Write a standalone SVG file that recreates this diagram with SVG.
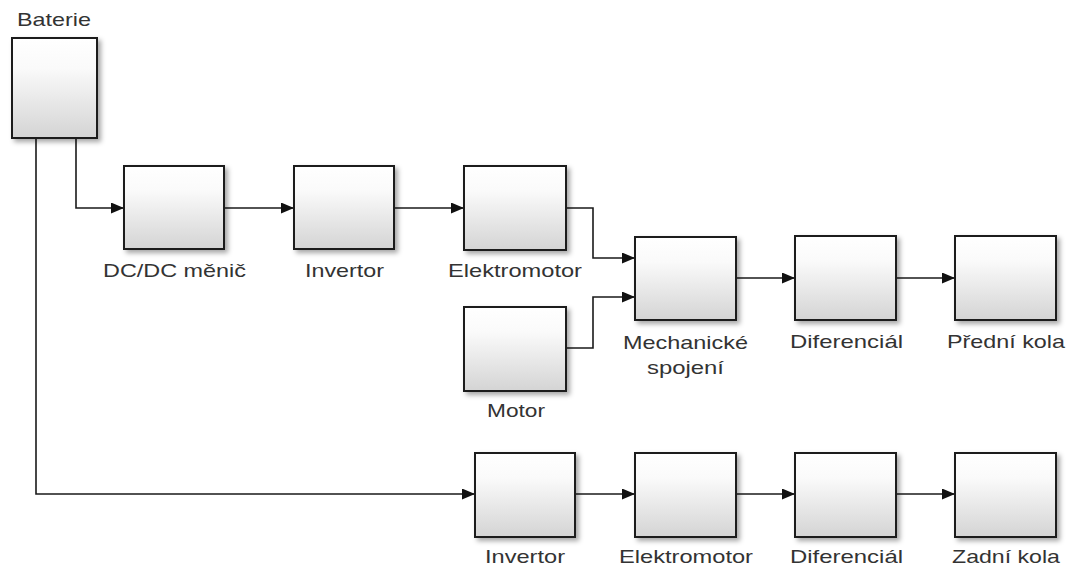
<svg xmlns="http://www.w3.org/2000/svg" width="1072" height="574" viewBox="0 0 1072 574">
  <defs>
    <linearGradient id="blk" x1="0" y1="0" x2="0" y2="1">
      <stop offset="0" stop-color="#ffffff"/>
      <stop offset="0.3" stop-color="#fafafa"/>
      <stop offset="1" stop-color="#d4d4d4"/>
    </linearGradient>
    <filter id="sh" x="-20%" y="-20%" width="150%" height="150%">
      <feDropShadow dx="3" dy="3" stdDeviation="2.5" flood-color="#000" flood-opacity="0.35"/>
    </filter>
    <marker id="arr" markerWidth="13" markerHeight="11" refX="13" refY="5.5" orient="auto" markerUnits="userSpaceOnUse">
      <path d="M0,0 L13,5.5 L0,11 Z" fill="#111"/>
    </marker>
  </defs>
  <style>
    .box { fill: url(#blk); stroke: #1a1a1a; stroke-width: 2; filter: url(#sh); }
    .lbl { font-family: "Liberation Sans", Arial, sans-serif; font-size: 19px; fill: #333333; text-anchor: middle; }
    .wire { fill: none; stroke: #1a1a1a; stroke-width: 1.6; marker-end: url(#arr); }
  </style>
  <rect width="1072" height="574" fill="#ffffff"/>

  <g id="connectors">
    <path class="wire" d="M76,138 V208 H124"/>
    <path class="wire" d="M224,208 H294"/>
    <path class="wire" d="M394,208 H464"/>
    <path class="wire" d="M566,208 H593 V258 H635"/>
    <path class="wire" d="M566,348 H593 V297 H635"/>
    <path class="wire" d="M736,278 H795"/>
    <path class="wire" d="M896,278 H955"/>
    <path class="wire" d="M36,138 V494 H475"/>
    <path class="wire" d="M575,494 H635"/>
    <path class="wire" d="M736,494 H795"/>
    <path class="wire" d="M896,494 H955"/>
  </g>

  <g id="baterie">
    <rect class="box" x="12" y="38" width="85" height="100"/>
    <text class="lbl" x="54" y="26" textLength="74" lengthAdjust="spacingAndGlyphs">Baterie</text>
  </g>
  <g id="dcdc">
    <rect class="box" x="124" y="166" width="100" height="83"/>
    <text class="lbl" x="174.5" y="277" textLength="143" lengthAdjust="spacingAndGlyphs">DC/DC měnič</text>
  </g>
  <g id="invertor1">
    <rect class="box" x="294" y="166" width="100" height="83"/>
    <text class="lbl" x="344.5" y="277" textLength="79" lengthAdjust="spacingAndGlyphs">Invertor</text>
  </g>
  <g id="elektromotor1">
    <rect class="box" x="464" y="166" width="102" height="84"/>
    <text class="lbl" x="515" y="277" textLength="134" lengthAdjust="spacingAndGlyphs">Elektromotor</text>
  </g>
  <g id="motor">
    <rect class="box" x="464" y="307" width="102" height="84"/>
    <text class="lbl" x="516" y="417" textLength="58" lengthAdjust="spacingAndGlyphs">Motor</text>
  </g>
  <g id="mechanicke">
    <rect class="box" x="635" y="237" width="101" height="83"/>
    <text class="lbl" x="685.5" y="349" textLength="125" lengthAdjust="spacingAndGlyphs">Mechanické</text>
    <text class="lbl" x="685.5" y="374" textLength="77" lengthAdjust="spacingAndGlyphs">spojení</text>
  </g>
  <g id="diferencial1">
    <rect class="box" x="795" y="236" width="101" height="84"/>
    <text class="lbl" x="846.5" y="348" textLength="113" lengthAdjust="spacingAndGlyphs">Diferenciál</text>
  </g>
  <g id="predni">
    <rect class="box" x="955" y="236" width="101" height="84"/>
    <text class="lbl" x="1006" y="348" textLength="118" lengthAdjust="spacingAndGlyphs">Přední kola</text>
  </g>
  <g id="invertor2">
    <rect class="box" x="475" y="453" width="100" height="84"/>
    <text class="lbl" x="525" y="563" textLength="80" lengthAdjust="spacingAndGlyphs">Invertor</text>
  </g>
  <g id="elektromotor2">
    <rect class="box" x="635" y="453" width="101" height="84"/>
    <text class="lbl" x="686" y="563" textLength="134" lengthAdjust="spacingAndGlyphs">Elektromotor</text>
  </g>
  <g id="diferencial2">
    <rect class="box" x="795" y="453" width="101" height="84"/>
    <text class="lbl" x="846.5" y="563" textLength="113" lengthAdjust="spacingAndGlyphs">Diferenciál</text>
  </g>
  <g id="zadni">
    <rect class="box" x="955" y="453" width="101" height="84"/>
    <text class="lbl" x="1006" y="563" textLength="108" lengthAdjust="spacingAndGlyphs">Zadní kola</text>
  </g>
</svg>
